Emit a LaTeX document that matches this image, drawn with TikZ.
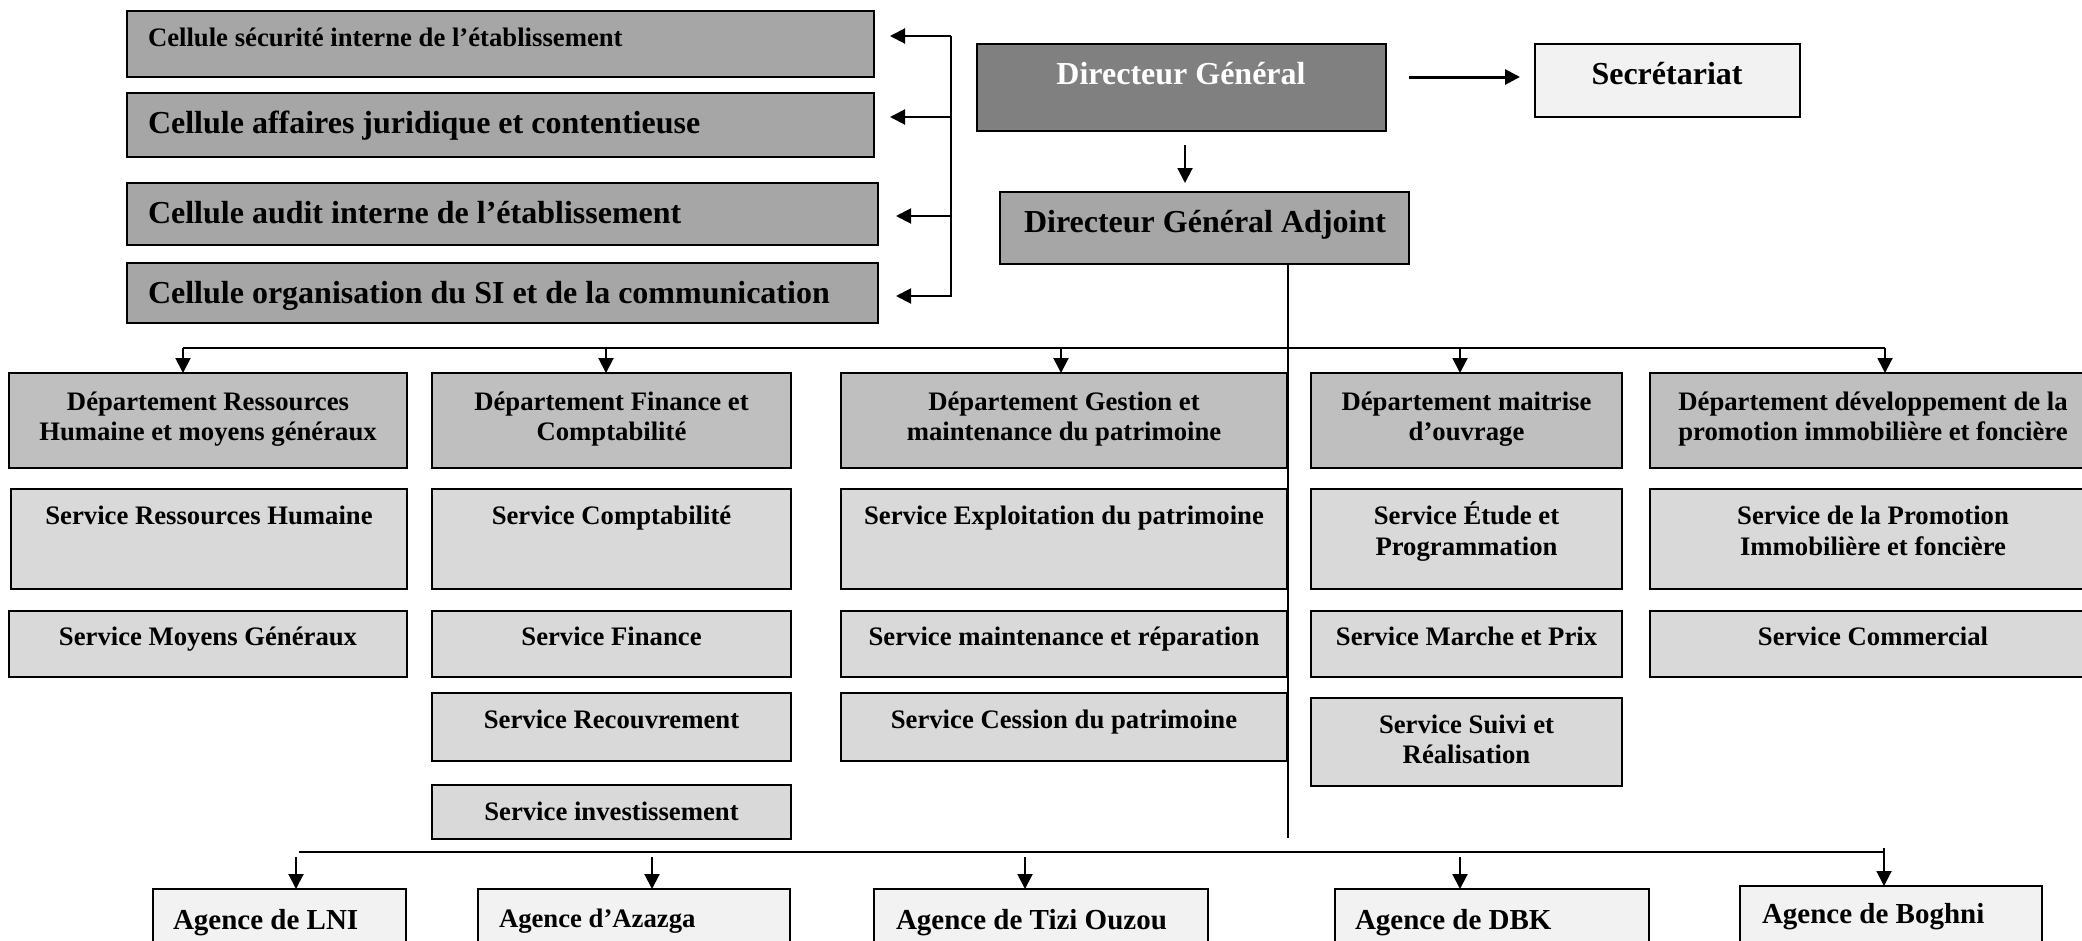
\documentclass[tikz,border=0pt]{standalone}
\usepackage{fontspec}
\setmainfont{Liberation Serif}
\usetikzlibrary{arrows.meta}
\definecolor{cellg}{HTML}{A6A6A6}
\definecolor{dgg}{HTML}{808080}
\definecolor{depg}{HTML}{BFBFBF}
\definecolor{srvg}{HTML}{D9D9D9}
\definecolor{ltg}{HTML}{F2F2F2}
\newcommand\fA{\fontsize{32}{38}\selectfont}
\newcommand\fB{\fontsize{26.7}{32}\selectfont}
\newcommand\fC{\fontsize{29}{34}\selectfont}
\newcommand\mkbox[6]{\node[bx,fill=#6,minimum width={(#4-#2)*1pt},minimum height={(#5-#3)*1pt}] (#1) at ({(#2+#4)/2},{(#3+#5)/2}) {};}
\tikzset{
  bx/.style={draw=black, line width=2.2pt, inner sep=0pt, outer sep=0pt},
  tx/.style={inner sep=0pt, outer sep=0pt, font=\bfseries, anchor=base},
  txl/.style={tx, anchor=base west},
  lnk/.style={line width=2pt},
  arr/.style={line width=2pt, -{Triangle[length=15pt,width=15pt]}},
}
\begin{document}
\begin{tikzpicture}[x=1pt,y=-1pt]
\useasboundingbox (0,0) rectangle (2082,940);
\clip (0,0) rectangle (2082,940);
\fill[white] (0,0) rectangle (2082,940);

% Cellules
\mkbox{c1}{127}{11}{874}{77}{cellg}
\mkbox{c2}{127}{93}{874}{157}{cellg}
\mkbox{c3}{127}{183}{878}{245}{cellg}
\mkbox{c4}{127}{263}{878}{323}{cellg}
\node[txl] (c1t) at (148,46) {\fB\bfseries Cellule sécurité interne de l’établissement};
\node[txl] (c2t) at (148,133) {\fA\bfseries Cellule affaires juridique et contentieuse};
\node[txl] (c3t) at (148,223) {\fA\bfseries Cellule audit interne de l’établissement};
\node[txl] (c4t) at (148,303) {\fA\bfseries Cellule organisation du SI et de la communication};

% bracket
\coordinate (kT) at (951,36);
\coordinate (kB) at (951,297);
\draw[lnk] (kT) -- (kB);
\coordinate (k1) at (951,36);  \coordinate (e1) at (890,36);
\coordinate (k2) at (951,117); \coordinate (e2) at (890,117);
\coordinate (k3) at (951,216); \coordinate (e3) at (896,216);
\coordinate (k4) at (951,296); \coordinate (e4) at (896,296);
\foreach \i in {1,...,4} \draw[arr] (k\i) -- (e\i);

% Direction
\mkbox{dg}{977}{44}{1386}{131}{dgg}
\node[tx,text=white] (dgt) at (1181,84) {\fA\bfseries Directeur Général};
\mkbox{sec}{1535}{44}{1800}{117}{ltg}
\node[tx] (sect) at (1667,84) {\fA\bfseries Secrétariat};
\coordinate (s0) at (1409,77); \coordinate (s1) at (1520,77);
\draw[line width=3pt,-{Triangle[length=15pt,width=15pt]}] (s0) -- (s1);
\mkbox{dga}{1000}{192}{1409}{264}{cellg}
\node[tx] (dgat) at (1205,232) {\fA\bfseries Directeur Général Adjoint};
\coordinate (g0) at (1185,145); \coordinate (g1) at (1185,183);
\draw[arr] (g0) -- (g1);
\coordinate (vEnd) at (1288,838);
\draw[lnk] (dga.south -| vEnd) -- (vEnd);

% department bus
\coordinate (b1) at (183,348);
\coordinate (b2) at (606,348);
\coordinate (b3) at (1061,348);
\coordinate (b4) at (1460,348);
\coordinate (b5) at (1885,348);
\draw[lnk] (b1) -- (b5);

% Departments
\mkbox{d1}{9}{373}{407}{468}{depg}
\mkbox{d2}{432}{373}{791}{468}{depg}
\mkbox{d3}{841}{373}{1287}{468}{depg}
\mkbox{d4}{1311}{373}{1622}{468}{depg}
\mkbox{d5}{1650}{373}{2096}{468}{depg}
\foreach \i in {1,...,5} \draw[arr] (b\i) -- (b\i |- d\i.north);
\node[tx] (d1a) at (208,410) {\fB\bfseries Département Ressources};
\node[tx] (d1b) at (208,440) {\fB\bfseries Humaine et moyens généraux};
\node[tx] (d2a) at (611.5,410) {\fB\bfseries Département Finance et};
\node[tx] (d2b) at (611.5,440) {\fB\bfseries Comptabilité};
\node[tx] (d3a) at (1064,410) {\fB\bfseries Département Gestion et};
\node[tx] (d3b) at (1064,440) {\fB\bfseries maintenance du patrimoine};
\node[tx] (d4a) at (1466.5,410) {\fB\bfseries Département maitrise};
\node[tx] (d4b) at (1466.5,440) {\fB\bfseries d’ouvrage};
\node[tx] (d5a) at (1873,410) {\fB\bfseries Département développement de la};
\node[tx] (d5b) at (1873,440) {\fB\bfseries promotion immobilière et foncière};

% Services row 1
\mkbox{s11}{11}{489}{407}{589}{srvg}
\mkbox{s21}{432}{489}{791}{589}{srvg}
\mkbox{s31}{841}{489}{1287}{589}{srvg}
\mkbox{s41}{1311}{489}{1622}{589}{srvg}
\mkbox{s51}{1650}{489}{2096}{589}{srvg}
\node[tx] (s11t) at (209,524) {\fB\bfseries Service Ressources Humaine};
\node[tx] (s21t) at (611.5,524) {\fB\bfseries Service Comptabilité};
\node[tx] (s31t) at (1064,524) {\fB\bfseries Service Exploitation du patrimoine};
\node[tx] (s41a) at (1466.5,524) {\fB\bfseries Service Étude et};
\node[tx] (s41b) at (1466.5,555) {\fB\bfseries Programmation};
\node[tx] (s51a) at (1873,524) {\fB\bfseries Service de la Promotion};
\node[tx] (s51b) at (1873,555) {\fB\bfseries Immobilière et foncière};

% Services row 2
\mkbox{s12}{9}{611}{407}{677}{srvg}
\mkbox{s22}{432}{611}{791}{677}{srvg}
\mkbox{s32}{841}{611}{1287}{677}{srvg}
\mkbox{s42}{1311}{611}{1622}{677}{srvg}
\mkbox{s52}{1650}{611}{2096}{677}{srvg}
\node[tx] (s12t) at (208,645) {\fB\bfseries Service Moyens Généraux};
\node[tx] (s22t) at (611.5,645) {\fB\bfseries Service Finance};
\node[tx] (s32t) at (1064,645) {\fB\bfseries Service maintenance et réparation};
\node[tx] (s42t) at (1466.5,645) {\fB\bfseries Service Marche et Prix};
\node[tx] (s52t) at (1873,645) {\fB\bfseries Service Commercial};

% Services row 3 / 4
\mkbox{s23}{432}{693}{791}{761}{srvg}
\mkbox{s33}{841}{693}{1287}{761}{srvg}
\mkbox{s43}{1311}{698}{1622}{786}{srvg}
\mkbox{s24}{432}{785}{791}{839}{srvg}
\node[tx] (s23t) at (611.5,728) {\fB\bfseries Service Recouvrement};
\node[tx] (s33t) at (1064,728) {\fB\bfseries Service Cession du patrimoine};
\node[tx] (s43a) at (1466.5,733) {\fB\bfseries Service Suivi et};
\node[tx] (s43b) at (1466.5,763) {\fB\bfseries Réalisation};
\node[tx] (s24t) at (611.5,820) {\fB\bfseries Service investissement};

% Agencies
\coordinate (ab0) at (299,852);
\coordinate (ab5) at (1884,852);
\draw[line width=2.5pt] (ab0) -- (ab5);
\mkbox{ag1}{153}{889}{406}{980}{ltg}
\mkbox{ag2}{478}{889}{790}{980}{ltg}
\mkbox{ag3}{874}{889}{1208}{980}{ltg}
\mkbox{ag4}{1335}{889}{1649}{980}{ltg}
\mkbox{ag5}{1740}{886}{2042}{980}{ltg}
\coordinate (as1) at (296,857);
\coordinate (as2) at (652,857);
\coordinate (as3) at (1025,857);
\coordinate (as4) at (1460,857);
\coordinate (as5) at (1884,848);
\foreach \i in {1,...,5} \draw[arr] (as\i) -- (as\i |- ag\i.north);
\node[txl] (ag1t) at (173,929) {\fC\bfseries Agence de LNI};
\node[txl] (ag2t) at (499,927) {\fB\bfseries Agence d’Azazga};
\node[txl] (ag3t) at (896,929) {\fC\bfseries Agence de Tizi Ouzou};
\node[txl] (ag4t) at (1355,929) {\fC\bfseries Agence de DBK};
\node[txl] (ag5t) at (1762,923) {\fC\bfseries Agence de Boghni};
\end{tikzpicture}
\end{document}
